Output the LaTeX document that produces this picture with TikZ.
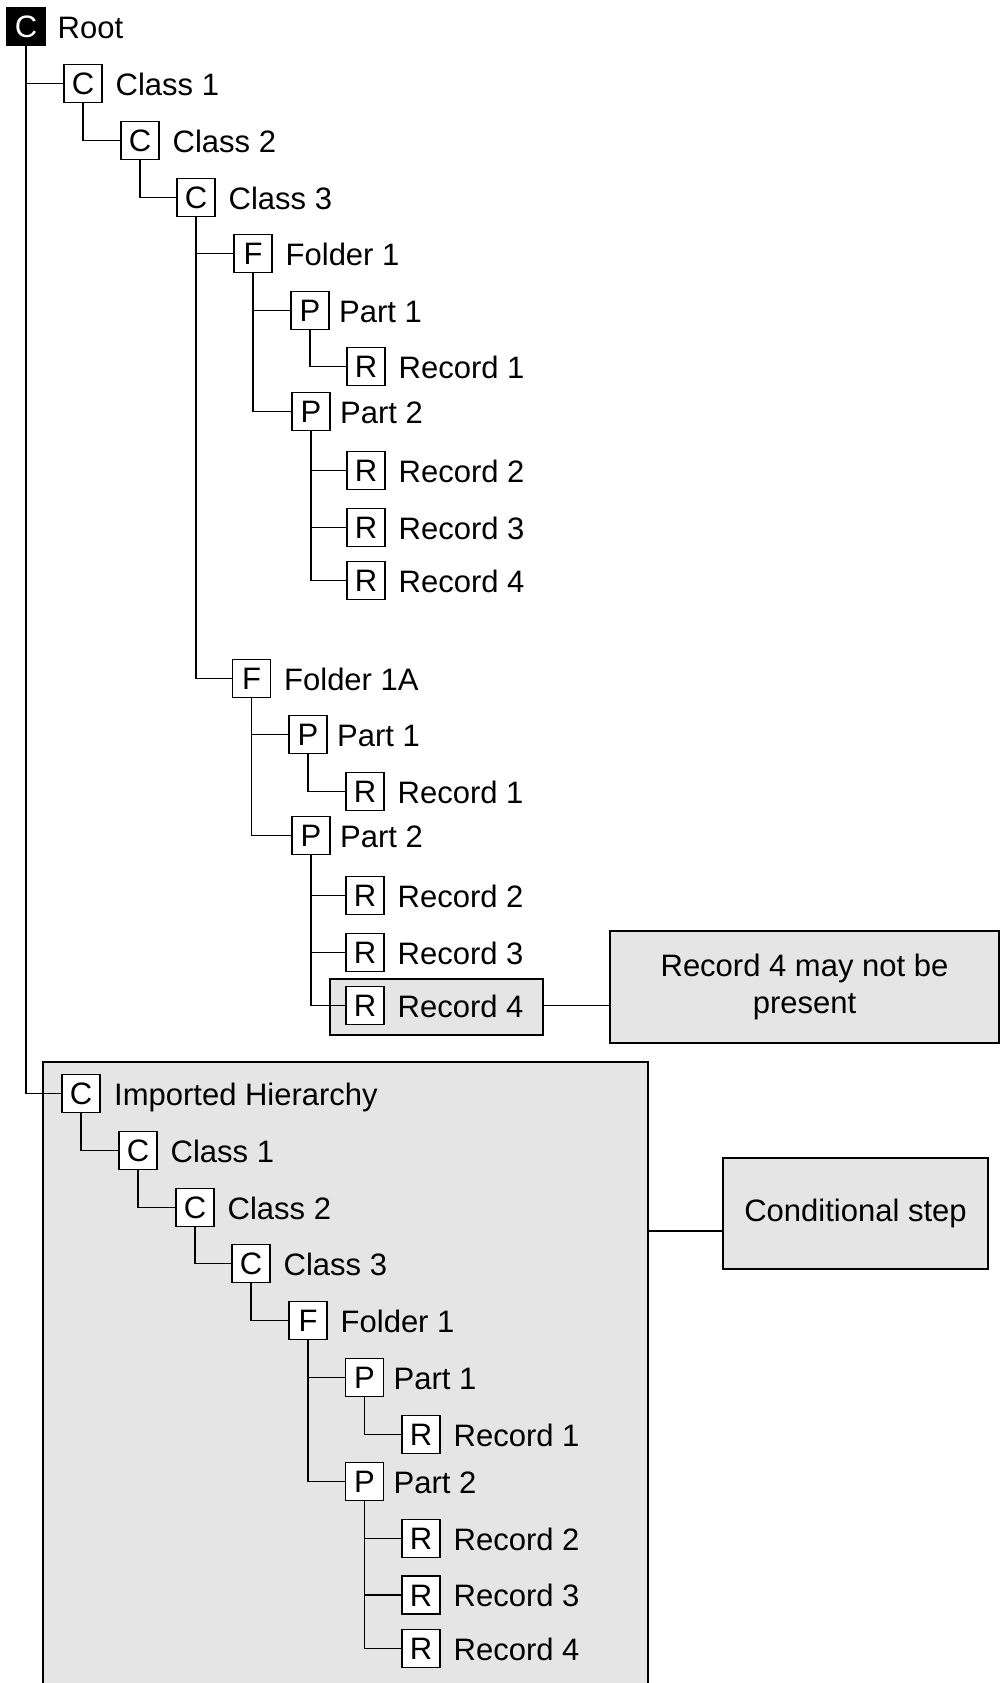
\documentclass[tikz,border=0pt]{standalone}
\usepackage{fontspec}
\setmainfont{Liberation Sans}
\definecolor{boxgray}{RGB}{229,229,229}

\begin{document}
\begin{tikzpicture}[x=1pt, y=-1pt, line width=1.7pt,
every node/.style={inner sep=0pt, font=\fontsize{31}{37}\selectfont},
tbox/.style={draw, fill=white, minimum size=38pt, text height=22.2pt, text depth=0pt, yshift=-0.5pt},
tlabel/.style={anchor=west, text height=22.2pt, text depth=0pt, yshift=-0.5pt},
notebox/.style={draw, fill=boxgray, align=center}
]
\useasboundingbox (0,0) rectangle (1000,1683);

% imported part, open at the bottom
\fill[boxgray] (43,1062) rectangle (648,1683);
\draw (43,1683) |- (648,1062) -- (648,1683);
\coordinate (impr) at (648,1231);
\node[draw, fill=boxgray, minimum width=213pt, minimum height=56pt] (hl) at (436.5,1007) {};

\node[tbox, fill=black, text=white] (root) at (26,26) {C};
\node[tlabel] (root-l) at ([xshift=11pt]root.east) {Root};

\foreach \n/\t/\x/\y/\g/\l in {c1/C/83/83/12/Class 1, c2/C/140/140/12/Class 2, c3/C/196/197/12/Class 3,%
                   f1/F/253/253/12/Folder 1, p1/P/310/310/8.5/Part 1, r1/R/366/366/12/Record 1,%
                   p2/P/311/411/8.5/Part 2, r2/R/366/470/12/Record 2, r3/R/366/527/12/Record 3,%
                   r4/R/366/580/12/Record 4,%
                   fa/F/251.5/678/12/Folder 1A, pa1/P/308/734/8.5/Part 1, ra1/R/365/791/12/Record 1,%
                   pa2/P/311/835/8.5/Part 2, ra2/R/365/895/12/Record 2, ra3/R/365/952/12/Record 3,%
                   ra4/R/365/1005/12/Record 4,%
                   ih/C/81/1093/12.5/Imported Hierarchy, ic1/C/138/1150/12/Class 1,%
                   ic2/C/195/1207/12/Class 2, ic3/C/251/1263/12/Class 3,%
                   if1/F/308/1320/12/Folder 1, ip1/P/364.5/1377/8.5/Part 1, ir1/R/421/1434/12/Record 1,%
                   ip2/P/364.5/1481/8.5/Part 2, ir2/R/421/1538/12/Record 2, ir3/R/421/1594.5/12/Record 3,%
                   ir4/R/421/1648/12/Record 4%
            }
{
    \node[tbox] (\n) at (\x,\y) {\t};
    \node[tlabel] (\n-l) at ([xshift=\g pt]\n.east) {\l};
}

\foreach \i/\j in {root/c1, c1/c2, c2/c3, c3/f1, c3/fa,%
                   f1/p1, f1/p2, p1/r1, p2/r2, p2/r3, p2/r4,%
                   fa/pa1, fa/pa2, pa1/ra1, pa2/ra2, pa2/ra3, pa2/ra4,%
                   root/ih, ih/ic1, ic1/ic2, ic2/ic3, ic3/if1,%
                   if1/ip1, if1/ip2, ip1/ir1, ip2/ir2, ip2/ir3, ip2/ir4%
            }
    \draw (\i.south) |- (\j.west);

% notes
\node[notebox, minimum width=389pt, minimum height=112pt] (note) at (804.5,987) {Record 4 may not be\\present};
\node[notebox, minimum width=265pt, minimum height=111pt] (cond) at (855.5,1213.5) {Conditional step};
\draw (hl.east |- ra4) -- (note.west |- ra4);
\draw (impr) -- (cond.west |- impr);
\end{tikzpicture}
\end{document}
